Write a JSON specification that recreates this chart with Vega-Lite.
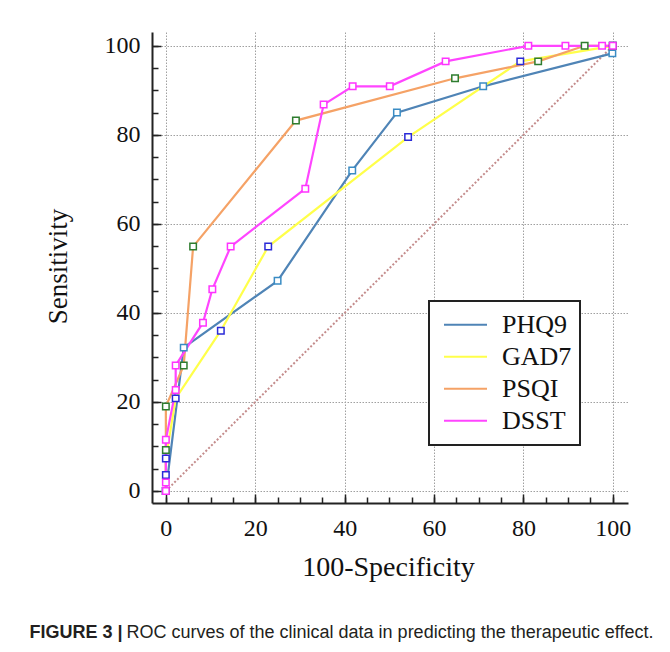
{
  "$schema": "https://vega.github.io/schema/vega-lite/v6.json",
  "width": 476,
  "height": 471,
  "autosize": "none",
  "padding": {"left": 152, "top": 32, "right": 42, "bottom": 149},
  "background": "white",
  "config": {
    "view": {"stroke": null},
    "font": "Liberation Serif",
    "legend": {
      "strokeColor": "#222222",
      "strokeWidth": 2,
      "fillColor": "white",
      "padding": 8,
      "symbolOffset": 6,
      "labelOffset": 14,
      "clipHeight": 31.7,
      "rowPadding": 0
    }
  },
  "datasets": {
    "diag": [
      {"fpr": 0, "tpr": 0},
      {"fpr": 100, "tpr": 100}
    ],
    "roc": [
      {"test": "PHQ9", "i": 0, "fpr": 0, "tpr": 0},
      {"test": "PHQ9", "i": 1, "fpr": 4.0, "tpr": 32.2},
      {"test": "PHQ9", "i": 2, "fpr": 25.0, "tpr": 47.2},
      {"test": "PHQ9", "i": 3, "fpr": 41.7, "tpr": 72.0},
      {"test": "PHQ9", "i": 4, "fpr": 51.7, "tpr": 85.0},
      {"test": "PHQ9", "i": 5, "fpr": 71.0, "tpr": 90.9},
      {"test": "PHQ9", "i": 6, "fpr": 99.9, "tpr": 98.3},
      {"test": "GAD7", "i": 0, "fpr": 0, "tpr": 0},
      {"test": "GAD7", "i": 1, "fpr": 0, "tpr": 3.6},
      {"test": "GAD7", "i": 2, "fpr": 0, "tpr": 7.3},
      {"test": "GAD7", "i": 3, "fpr": 2.2, "tpr": 20.8},
      {"test": "GAD7", "i": 4, "fpr": 12.3, "tpr": 36.0},
      {"test": "GAD7", "i": 5, "fpr": 22.9, "tpr": 54.9},
      {"test": "GAD7", "i": 6, "fpr": 54.2, "tpr": 79.5},
      {"test": "GAD7", "i": 7, "fpr": 79.3, "tpr": 96.5},
      {"test": "GAD7", "i": 8, "fpr": 100, "tpr": 100},
      {"test": "PSQI", "i": 0, "fpr": 0, "tpr": 0},
      {"test": "PSQI", "i": 1, "fpr": 0, "tpr": 9.2},
      {"test": "PSQI", "i": 2, "fpr": 0, "tpr": 19.0},
      {"test": "PSQI", "i": 3, "fpr": 4.0, "tpr": 28.2},
      {"test": "PSQI", "i": 4, "fpr": 6.1, "tpr": 54.9},
      {"test": "PSQI", "i": 5, "fpr": 29.1, "tpr": 83.2},
      {"test": "PSQI", "i": 6, "fpr": 64.7, "tpr": 92.7},
      {"test": "PSQI", "i": 7, "fpr": 83.3, "tpr": 96.5},
      {"test": "PSQI", "i": 8, "fpr": 93.7, "tpr": 100},
      {"test": "PSQI", "i": 9, "fpr": 100, "tpr": 100},
      {"test": "DSST", "i": 0, "fpr": 0, "tpr": 0},
      {"test": "DSST", "i": 1, "fpr": 0, "tpr": 1.9},
      {"test": "DSST", "i": 2, "fpr": 0, "tpr": 11.5},
      {"test": "DSST", "i": 3, "fpr": 2.2, "tpr": 22.7},
      {"test": "DSST", "i": 4, "fpr": 2.2, "tpr": 28.2},
      {"test": "DSST", "i": 5, "fpr": 8.3, "tpr": 37.8},
      {"test": "DSST", "i": 6, "fpr": 10.4, "tpr": 45.3},
      {"test": "DSST", "i": 7, "fpr": 14.5, "tpr": 54.9},
      {"test": "DSST", "i": 8, "fpr": 31.2, "tpr": 67.9},
      {"test": "DSST", "i": 9, "fpr": 35.3, "tpr": 86.8},
      {"test": "DSST", "i": 10, "fpr": 41.8, "tpr": 90.9},
      {"test": "DSST", "i": 11, "fpr": 50.1, "tpr": 90.9},
      {"test": "DSST", "i": 12, "fpr": 62.6, "tpr": 96.5},
      {"test": "DSST", "i": 13, "fpr": 81.1, "tpr": 100},
      {"test": "DSST", "i": 14, "fpr": 89.4, "tpr": 100},
      {"test": "DSST", "i": 15, "fpr": 97.6, "tpr": 100},
      {"test": "DSST", "i": 16, "fpr": 100, "tpr": 100}
    ]
  },
  "layer": [
    {
      "data": {"name": "diag"},
      "mark": {"type": "line", "color": "#c48c8c", "strokeDash": [2, 2], "strokeWidth": 2},
      "encoding": {
        "x": {
          "field": "fpr", "type": "quantitative",
          "scale": {"domain": [-3.1, 103.4], "nice": false, "zero": false},
          "axis": {
            "orient": "bottom",
            "values": [0, 20, 40, 60, 80, 100],
            "tickSize": -9, "tickWidth": 1.5, "tickColor": "#222222",
            "domainColor": "#222222", "domainWidth": 2,
            "grid": true, "gridColor": "#a0a0a0", "gridDash": [1.5, 1.5], "gridWidth": 1,
            "labelFontSize": 24, "labelColor": "#111111", "labelPadding": 22, "labelFont": "Liberation Serif",
            "title": "100-Specificity", "titleFont": "Liberation Serif", "titleFontSize": 28, "titleFontWeight": "normal",
            "titleColor": "#111111", "titleX": 236, "titleY": 64, "titleBaseline": "middle", "titleAlign": "center", "titleAngle": 0
          }
        },
        "y": {
          "field": "tpr", "type": "quantitative",
          "scale": {"domain": [-2.7, 103.1], "nice": false, "zero": false},
          "axis": {
            "orient": "left",
            "values": [0, 20, 40, 60, 80, 100],
            "tickSize": -9, "tickWidth": 1.5, "tickColor": "#222222",
            "domainColor": "#222222", "domainWidth": 2,
            "grid": true, "gridColor": "#a0a0a0", "gridDash": [1.5, 1.5], "gridWidth": 1,
            "labelFontSize": 24, "labelColor": "#111111", "labelPadding": 21, "labelFont": "Liberation Serif",
            "title": "Sensitivity", "titleFont": "Liberation Serif", "titleFontSize": 27, "titleFontWeight": "normal",
            "titleColor": "#111111", "titleX": -94, "titleY": 234, "titleBaseline": "middle", "titleAlign": "center", "titleAngle": 270
          }
        }
      }
    },
    {
      "data": {"name": "roc"},
      "mark": {"type": "line", "strokeWidth": 2.2},
      "encoding": {
        "x": {
          "field": "fpr", "type": "quantitative",
          "axis": {
            "orient": "bottom",
            "values": [0, 5, 10, 15, 20, 25, 30, 35, 40, 45, 50, 55, 60, 65, 70, 75, 80, 85, 90, 95, 100],
            "tickSize": -6, "tickWidth": 1.5, "tickColor": "#222222",
            "domain": false, "grid": false, "labels": false,
            "title": "FIGURE 3 |", "titleFont": "Liberation Sans", "titleFontSize": 18, "titleFontWeight": "bold",
            "titleColor": "#231f20", "titleX": -123, "titleY": 129, "titleBaseline": "middle", "titleAlign": "left", "titleAngle": 0
          }
        },
        "y": {
          "field": "tpr", "type": "quantitative",
          "axis": {
            "orient": "left",
            "values": [0, 5, 10, 15, 20, 25, 30, 35, 40, 45, 50, 55, 60, 65, 70, 75, 80, 85, 90, 95, 100],
            "tickSize": -6, "tickWidth": 1.5, "tickColor": "#222222",
            "domain": false, "grid": false, "labels": false,
            "title": "ROC curves of the clinical data in predicting the therapeutic effect.",
            "titleFont": "Liberation Sans", "titleFontSize": 18, "titleFontWeight": "normal",
            "titleColor": "#231f20", "titleX": -26, "titleY": 600, "titleBaseline": "middle", "titleAlign": "left", "titleAngle": 0
          }
        },
        "color": {
          "field": "test", "type": "nominal",
          "scale": {"domain": ["PHQ9", "GAD7", "PSQI", "DSST"], "range": ["#4f84b6", "#ffff4a", "#f5a266", "#ff45ff"]},
          "legend": {
            "title": null, "orient": "none", "legendX": 277, "legendY": 269,
            "symbolType": "stroke", "symbolSize": 1849, "symbolStrokeWidth": 2,
            "labelFont": "Liberation Serif", "labelFontSize": 26, "labelColor": "#111111",
            "labelExpr": "datum.label + '    '"
          }
        },
        "order": {"field": "i", "type": "quantitative"}
      }
    },
    {
      "data": {"name": "roc"},
      "mark": {"type": "point", "shape": "square", "size": 42, "filled": true, "fill": "white", "strokeWidth": 1.5, "opacity": 1},
      "encoding": {
        "x": {"field": "fpr", "type": "quantitative", "axis": null},
        "y": {"field": "tpr", "type": "quantitative", "axis": null},
        "stroke": {
          "field": "test", "type": "nominal",
          "scale": {"domain": ["PHQ9", "GAD7", "PSQI", "DSST"], "range": ["#3a8cc4", "#2a2ad8", "#2f7d2f", "#ff33ff"]},
          "legend": null
        }
      }
    }
  ],
  "resolve": {"axis": {"x": "independent", "y": "independent"}}
}
